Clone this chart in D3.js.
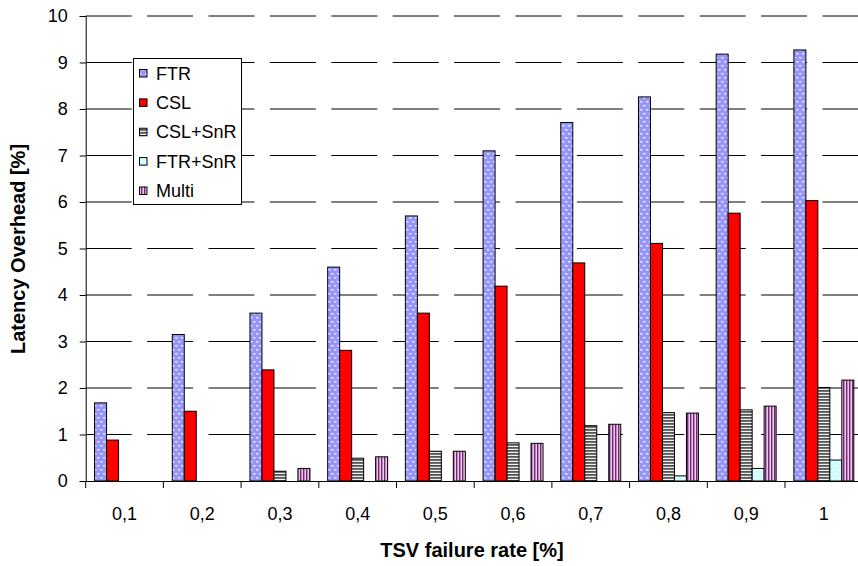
<!DOCTYPE html>
<html>
<head>
<meta charset="utf-8">
<script src="https://cdn.jsdelivr.net/npm/d3@7"></script>
<style>
  html, body { margin: 0; padding: 0; background: #fff; }
  svg { display: block; font-family: "Liberation Sans", Arial, sans-serif; }
</style>
</head>
<body>
<svg id="chart" width="858" height="566"></svg>
<script>
// ---- data ----
const categories = ["0,1", "0,2", "0,3", "0,4", "0,5", "0,6", "0,7", "0,8", "0,9", "1"];
const seriesNames = ["FTR", "CSL", "CSL+SnR", "FTR+SnR", "Multi"];
const ftr     = [1.68, 3.15, 3.61, 4.60, 5.70, 7.10, 7.71, 8.26, 9.18, 9.27];
const csl     = [0.88, 1.50, 2.39, 2.81, 3.61, 4.19, 4.69, 5.11, 5.76, 6.03];
const cslSnr  = [0, 0, 0.21, 0.49, 0.64, 0.82, 1.19, 1.47, 1.53, 2.01];
const ftrSnr  = [0, 0, 0, 0, 0, 0, 0, 0.11, 0.27, 0.45];
const multi   = [0, 0, 0.27, 0.52, 0.64, 0.81, 1.22, 1.46, 1.61, 2.17];
const yTicks  = [0, 1, 2, 3, 4, 5, 6, 7, 8, 9, 10];
const xTitle = "TSV failure rate [%]";
const yTitle = "Latency Overhead [%]";

const seriesValues = [ftr, csl, cslSnr, ftrSnr, multi];
const seriesFill = ["url(#pFTR)", "#FF0000", "url(#pCSLSnR)", "url(#pFTRSnR)", "url(#pMulti)"];

(function () {
const svg = d3.select("#chart");
svg.append("rect").attr("width", 858).attr("height", 566).attr("fill", "#fff");

// ---- patterns ----
const defs = svg.append("defs");
function dotted(id, base, dot) {
  const p = defs.append("pattern").attr("id", id).attr("patternUnits", "userSpaceOnUse")
    .attr("width", 6).attr("height", 8);
  p.append("rect").attr("width", 6).attr("height", 8).attr("fill", base);
  [[1, 1], [4, 5], [-2, 5]].forEach(([x, y]) =>
    p.append("rect").attr("x", x).attr("y", y).attr("width", 2.5).attr("height", 1.5).attr("fill", dot));
}
dotted("pFTR", "#9494FA", "#E6E6FF");
dotted("pFTRSnR", "#CCFFFF", "#FFFFFF");
{
  const p = defs.append("pattern").attr("id", "pCSLSnR").attr("patternUnits", "userSpaceOnUse")
    .attr("width", 4).attr("height", 3);
  p.append("rect").attr("width", 4).attr("height", 3).attr("fill", "#EEEEEE");
  p.append("rect").attr("width", 4).attr("height", 1.8).attr("fill", "#555555");
}
{
  const p = defs.append("pattern").attr("id", "pMulti").attr("patternUnits", "userSpaceOnUse")
    .attr("width", 3).attr("height", 4);
  p.append("rect").attr("width", 3).attr("height", 4).attr("fill", "#E8CCE8");
  p.append("rect").attr("width", 1.4).attr("height", 4).attr("fill", "#762476");
}

// ---- scales ----
const pLeft = 85.7, pRight = 862.7, pTop = 16, pBottom = 481;
const x = d3.scaleBand().domain(categories).range([pLeft, pRight]).paddingInner(0).paddingOuter(0);
const xs = d3.scaleBand().domain(seriesNames).range([0, x.bandwidth()]).paddingInner(0).paddingOuter(0.74);
const y = d3.scaleLinear().domain([0, 10]).range([pBottom, pTop]);

// ---- gridlines ----
svg.append("g").selectAll("line").data(yTicks.filter(t => t > 0)).join("line")
  .attr("x1", pLeft).attr("x2", 858)
  .attr("y1", d => y(d)).attr("y2", d => y(d))
  .attr("stroke", "#000").attr("stroke-width", 1)
  .attr("stroke-dasharray", "46,15.4");

// ---- bars ----
const barData = [];
seriesNames.forEach((s, si) => {
  seriesValues[si].forEach((v, ci) => {
    if (v > 0) barData.push({ s, si, c: categories[ci], v });
  });
});
svg.append("g").selectAll("rect").data(barData).join("rect")
  .attr("x", d => x(d.c) + xs(d.s))
  .attr("width", xs.bandwidth())
  .attr("y", d => y(d.v))
  .attr("height", d => y(0) - y(d.v))
  .attr("fill", d => seriesFill[d.si])
  .attr("stroke", "#000").attr("stroke-width", 1);

// ---- axes ----
const yAxis = svg.append("g").attr("transform", `translate(${pLeft},0)`)
  .call(d3.axisLeft(y).tickValues(yTicks).tickSize(6).tickPadding(12).tickFormat(d3.format("d")));
yAxis.select(".domain").attr("stroke", "#000");
yAxis.selectAll("text").attr("font-size", 18).attr("fill", "#000")
  .attr("font-family", "Liberation Sans, Arial, sans-serif");

const xAxis = svg.append("g").attr("transform", `translate(0,${pBottom})`)
  .call(d3.axisBottom(x).tickSize(0).tickPadding(26));
xAxis.select(".domain").attr("d", `M${pLeft},0.5H858`).attr("stroke", "#000");
xAxis.selectAll("text").attr("font-size", 18).attr("fill", "#000")
  .attr("font-family", "Liberation Sans, Arial, sans-serif");
// boundary ticks
svg.append("g").selectAll("line").data(categories).join("line")
  .attr("x1", d => x(d)).attr("x2", d => x(d))
  .attr("y1", pBottom).attr("y2", pBottom + 7)
  .attr("stroke", "#000");

// ---- titles ----
svg.append("text").attr("x", 472).attr("y", 557).attr("text-anchor", "middle")
  .attr("font-size", 20).attr("font-weight", "bold").text(xTitle);
svg.append("text").attr("transform", `translate(25,249) rotate(-90)`).attr("text-anchor", "middle")
  .attr("font-size", 20).attr("font-weight", "bold").text(yTitle);

// ---- legend ----
const lg = svg.append("g");
lg.append("rect").attr("x", 133.5).attr("y", 58.5).attr("width", 108).attr("height", 146)
  .attr("fill", "#fff").attr("stroke", "#000");
const ly = d3.scalePoint().domain(seriesNames).range([73, 190.5]);
seriesNames.forEach((s, si) => {
  lg.append("rect").attr("x", 139.5).attr("y", ly(s) - 3.5).attr("width", 7.5).attr("height", 7.5)
    .attr("fill", seriesFill[si]).attr("stroke", "#000");
  lg.append("text").attr("x", 156).attr("y", ly(s) + 6.5).attr("font-size", 18).text(s);
});
})();
</script>
</body>
</html>
